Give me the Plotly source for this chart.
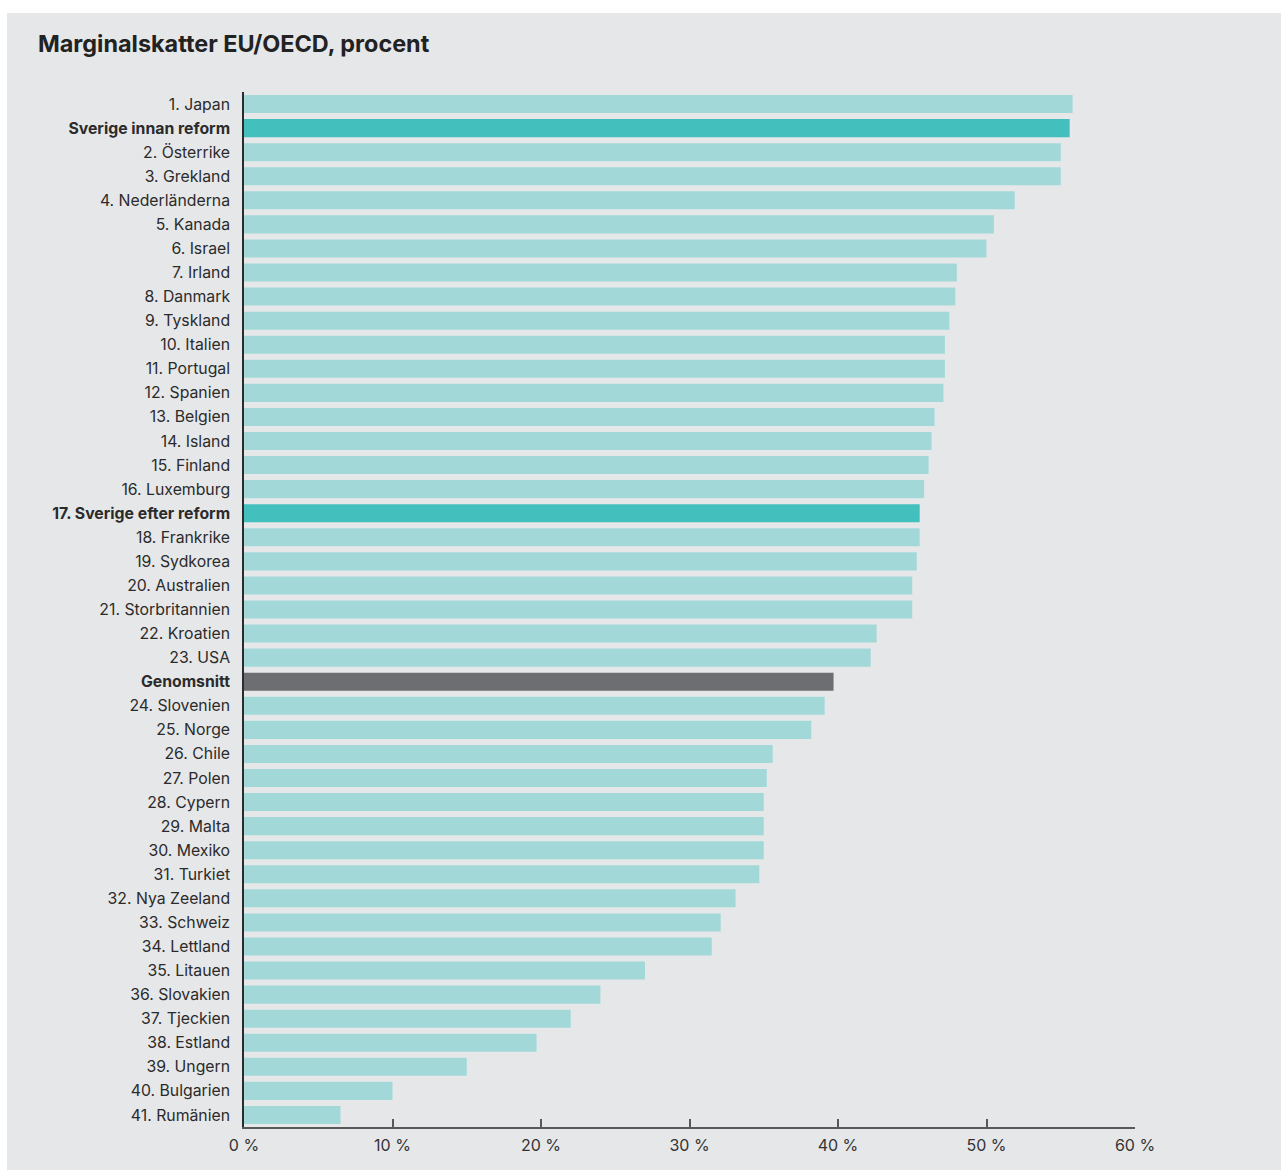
import plotly.graph_objects as go

labels = [
    "1. Japan", "Sverige innan reform", "2. Österrike", "3. Grekland", "4. Nederländerna",
    "5. Kanada", "6. Israel", "7. Irland", "8. Danmark", "9. Tyskland", "10. Italien",
    "11. Portugal", "12. Spanien", "13. Belgien", "14. Island", "15. Finland",
    "16. Luxemburg", "17. Sverige efter reform", "18. Frankrike", "19. Sydkorea",
    "20. Australien", "21. Storbritannien", "22. Kroatien", "23. USA", "Genomsnitt",
    "24. Slovenien", "25. Norge", "26. Chile", "27. Polen", "28. Cypern", "29. Malta",
    "30. Mexiko", "31. Turkiet", "32. Nya Zeeland", "33. Schweiz", "34. Lettland",
    "35. Litauen", "36. Slovakien", "37. Tjeckien", "38. Estland", "39. Ungern",
    "40. Bulgarien", "41. Rumänien",
]
values = [
    55.8, 55.6, 55.0, 55.0, 51.9, 50.5, 50.0, 48.0, 47.9, 47.5, 47.2,
    47.2, 47.1, 46.5, 46.3, 46.1, 45.8, 45.5, 45.5, 45.3,
    45.0, 45.0, 42.6, 42.2, 39.7,
    39.1, 38.2, 35.6, 35.2, 35.0, 35.0,
    35.0, 34.7, 33.1, 32.1, 31.5,
    27.0, 24.0, 22.0, 19.7, 15.0,
    10.0, 6.5,
]
sweden_labels = ["Sverige innan reform", "17. Sverige efter reform"]
average_labels = ["Genomsnitt"]
x_ticks = [0, 10, 20, 30, 40, 50, 60]
x_ticktext = ["0 %", "10 %", "20 %", "30 %", "40 %", "50 %", "60 %"]

C_BASE = "#a2d9d8"
C_SWE = "#43c0bd"
C_AVG = "#6d6e71"
BG = "#e6e7e9"
TXT = "#2b2b2b"

W, H = 1281, 1170
ML, MR, MT, MB = 244, 146, 92, 43
PW, PH = W - ML - MR, H - MT - MB

colors = []
ticktext = []
for lab in labels:
    if lab in sweden_labels:
        colors.append(C_SWE)
        ticktext.append(f"<b>{lab}</b>")
    elif lab in average_labels:
        colors.append(C_AVG)
        ticktext.append(f"<b>{lab}</b>")
    else:
        colors.append(C_BASE)
        ticktext.append(lab)

fig = go.Figure(go.Bar(
    x=values, y=labels, orientation="h",
    marker=dict(color=colors, line=dict(width=0)),
    hoverinfo="x+y",
))

fig.update_layout(
    width=W, height=H,
    margin=dict(l=ML, r=MR, t=MT, b=MB),
    paper_bgcolor=BG, plot_bgcolor=BG,
    bargap=0.25,
    showlegend=False,
    font=dict(family="Inter, Roboto, sans-serif", size=15.8, color=TXT),
    title=dict(
        text="<b>Marginalskatter EU/OECD, procent</b>",
        x=38 / W, xanchor="left", xref="container",
        y=1 - 44 / H, yanchor="middle", yref="container",
        font=dict(size=23.4, color="#222222"),
    ),
    shapes=[
        dict(type="rect", xref="paper", yref="paper", layer="below",
             x0=-1, x1=2, y0=1 + (MT - 13) / PH, y1=2,
             fillcolor="white", line=dict(width=0)),
        dict(type="rect", xref="paper", yref="paper", layer="below",
             x0=-2, x1=-(ML - 7) / PW, y0=-1, y1=2,
             fillcolor="white", line=dict(width=0)),
    ],
)

fig.update_xaxes(
    range=[0, 60], tickmode="array", tickvals=x_ticks, ticktext=x_ticktext,
    showgrid=False, zeroline=False,
    showline=True, linecolor="#58595b", linewidth=2,
    ticks="inside", ticklen=8, tickwidth=1.5, tickcolor="#58595b",
    ticklabelstandoff=3,
    tickfont=dict(size=16, color="#333333"),
    fixedrange=True,
)
fig.update_yaxes(
    categoryorder="array", categoryarray=labels,
    tickmode="array", tickvals=labels, ticktext=ticktext,
    autorange="reversed",
    showgrid=False, zeroline=False,
    showline=True, linecolor="#2b2b2b", linewidth=1.5,
    ticks="", ticklabelstandoff=9,
    tickfont=dict(size=15.8, color=TXT),
    fixedrange=True,
)

fig.write_html("out.html")
